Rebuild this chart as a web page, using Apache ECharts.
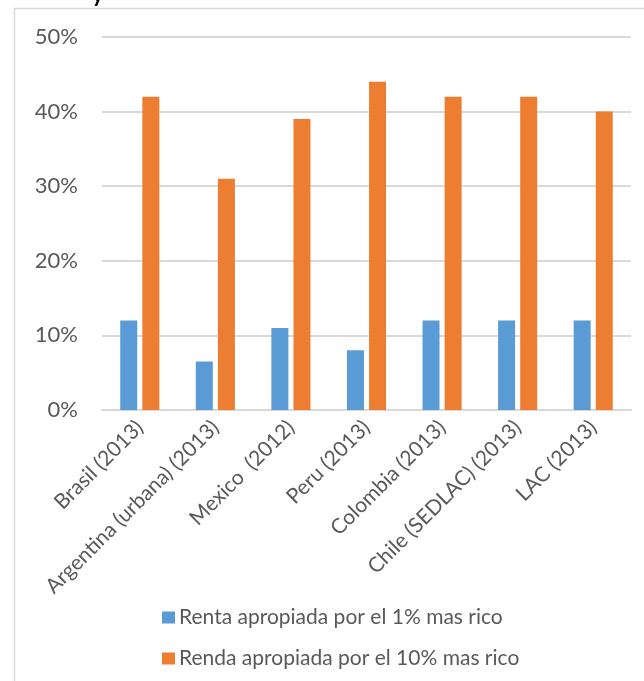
<!DOCTYPE html>
<html>
<head>
<meta charset="utf-8">
<script src="https://cdn.jsdelivr.net/npm/echarts@6/dist/echarts.min.js"></script>
<style>
  html, body { margin: 0; padding: 0; background: #fff; }
  #chart { width: 644px; height: 681px; }
</style>
</head>
<body>
<div id="chart"></div>
<script>
// values, in percent
const categories = ['Brasil (2013)', 'Argentina (urbana) (2013)', 'Mexico  (2012)', 'Peru (2013)',
  'Colombia (2013)', 'Chile (SEDLAC) (2013)', 'LAC (2013)'];
const top1 = [12, 6.5, 11, 8, 12, 12, 12];
const top10 = [42, 31, 39, 44, 42, 42, 40];
const seriesNames = ['Renta apropiada por el 1% mas rico', 'Renda apropiada por el 10% mas rico'];

const font = 'Lato';
const grey = '#595959';

const chart = echarts.init(document.getElementById('chart'));
chart.setOption({
  animation: false,
  textStyle: { fontFamily: font },
  graphic: [{
    type: 'rect',
    shape: { x: 14.5, y: 8.5, width: 700, height: 800 },
    style: { fill: 'none', stroke: '#d9d9d9', lineWidth: 1.5 },
    silent: true
  }, {
    // bit of a title cut off by the top edge
    type: 'text',
    left: 92,
    top: -16,
    style: { text: 'y', fontSize: 22, fontWeight: 'bold', fill: '#000', fontFamily: font },
    silent: true
  }],
  grid: { left: 102, right: 13, top: 37, bottom: 271 },
  legend: {
    orient: 'vertical',
    left: 157,
    top: 602,
    itemWidth: 13,
    itemHeight: 12,
    itemGap: 20,
    icon: 'rect',
    textStyle: { fontSize: 21, color: grey, fontFamily: font, padding: [0, 0, 0, -1] }
  },
  xAxis: {
    type: 'category',
    data: categories,
    axisLine: { lineStyle: { color: '#d9d9d9', width: 2 } },
    axisTick: { show: false },
    axisLabel: { rotate: 45, fontSize: 21, color: grey, margin: 14, interval: 0 }
  },
  yAxis: {
    type: 'value',
    min: 0,
    max: 50,
    interval: 10,
    axisLine: { show: false },
    axisTick: { show: false },
    splitLine: { lineStyle: { color: '#d9d9d9', width: 2 } },
    axisLabel: { formatter: '{value}%', fontSize: 22, color: grey, margin: 24 }
  },
  series: [
    { name: seriesNames[0], type: 'bar', data: top1, barWidth: 17, barGap: '30%',
      itemStyle: { color: '#5b9bd5' } },
    { name: seriesNames[1], type: 'bar', data: top10, barWidth: 17,
      itemStyle: { color: '#ed7d31' } }
  ]
});
</script>
</body>
</html>
